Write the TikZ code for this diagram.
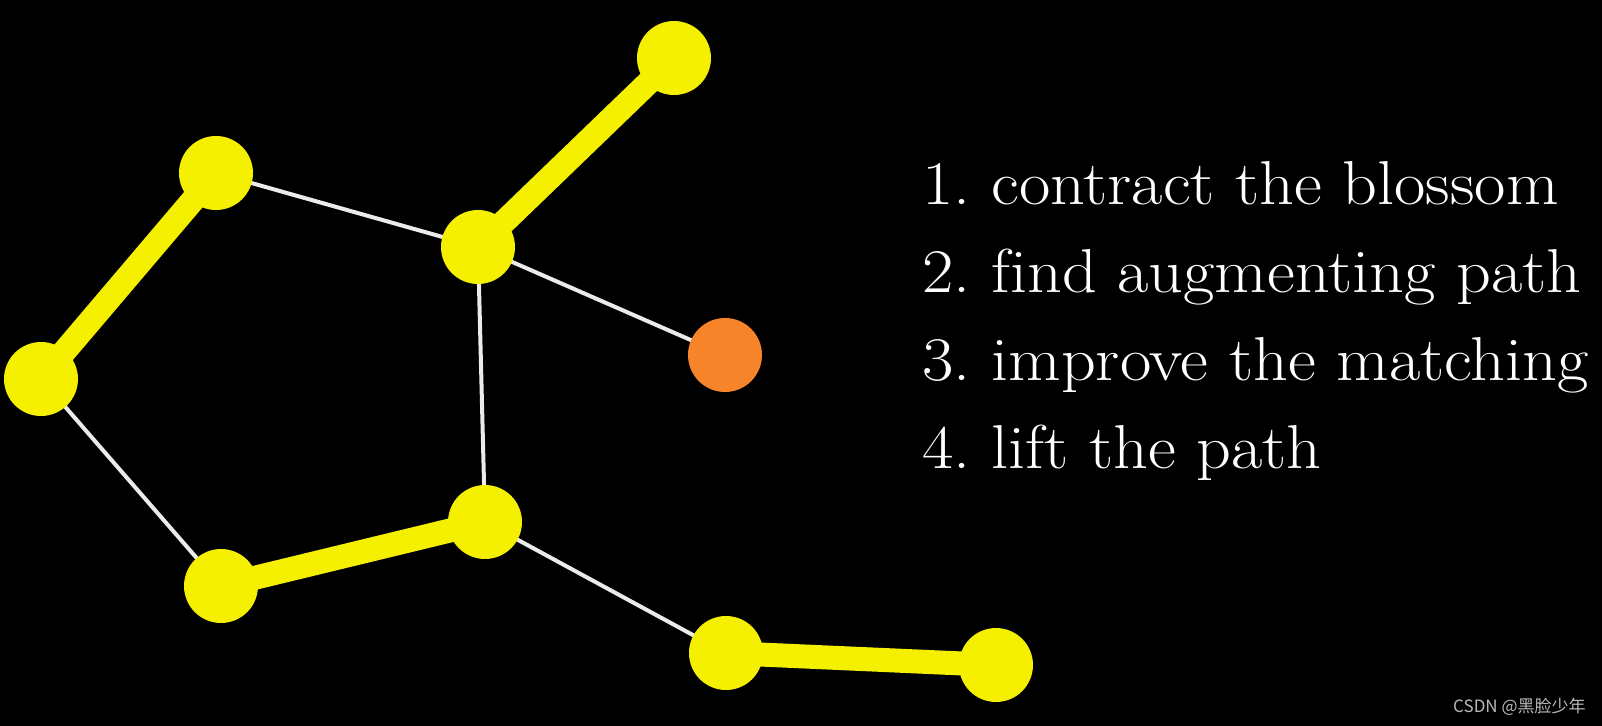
\documentclass[tikz,border=0pt]{standalone}
\usepackage{graphicx}
\usepackage{fontspec}
\newfontfamily\cjk{Noto Sans CJK SC}
\usetikzlibrary{positioning, backgrounds}
\definecolor{bloomyellow}{RGB}{244,240,0}
\definecolor{freeorange}{RGB}{245,132,42}
\definecolor{markgray}{RGB}{185,185,185}
\newcommand{\wide}[1]{\scalebox{1.1}[1]{#1}}

\begin{document}
\begin{tikzpicture}[
    x=0.5pt, y=-0.5pt,
    vertex/.style={circle, fill=#1, minimum size=37pt, inner sep=0pt},
    matched/.style={line width=12pt, bloomyellow},
    free/.style={line width=2pt, white!92!black},
    step text/.style={text=white, inner sep=0pt, font=\fontsize{31}{36}\selectfont},
]
    \useasboundingbox (0,0) rectangle (1602,726);

    % Vertices
    \node[vertex=bloomyellow] (top) at (674,58) {};
    \node[vertex=bloomyellow] (upleft) at (216,173) {};
    \node[vertex=bloomyellow] (base) at (478,247) {};
    \node[vertex=bloomyellow] (left) at (41,379) {};
    \node[vertex=freeorange] (single) at (725,355) {};
    \node[vertex=bloomyellow] (lowmid) at (485,522) {};
    \node[vertex=bloomyellow] (lowleft) at (221,586) {};
    \node[vertex=bloomyellow] (tailA) at (726,653) {};
    \node[vertex=bloomyellow] (tailB) at (996,665) {};

    % Edges behind the vertices
    \begin{scope}[on background layer]
    \fill[black] (0,0) rectangle (1602,726);
    \draw[free] (upleft.center) -- (base.center);
    \draw[free] (base.center) -- (single.center);
    \draw[free] (base.center) -- (lowmid.center);
    \draw[free] (left.center) -- (lowleft.center);
    \draw[free] (lowmid.center) -- (tailA.center);
    \draw[matched] (top.center) -- (base.center);
    \draw[matched] (upleft.center) -- (left.center);
    \draw[matched] (lowleft.center) -- (lowmid.center);
    \draw[matched] (tailA.center) -- (tailB.center);
    \end{scope}

    % Steps
    \node[step text, anchor=base west] (s1) at (922,205) {\wide{1.\ contract the blossom}};
    \node[step text, below=44pt of s1.base west, anchor=base west] (s2) {\wide{2.\ f\kern0pt ind augmenting path}};
    \node[step text, below=44pt of s2.base west, anchor=base west] (s3) {\wide{3.\ improve the matching}};
    \node[step text, below=44pt of s3.base west, anchor=base west] (s4) {\wide{4.\ lift the path}};

    % Watermark
    \node[anchor=base east, inner sep=0pt, text=markgray, font=\cjk\fontsize{8.5}{10}\selectfont] (mark) at (1586,713) {CSDN @黑脸少年};
\end{tikzpicture}
\end{document}
